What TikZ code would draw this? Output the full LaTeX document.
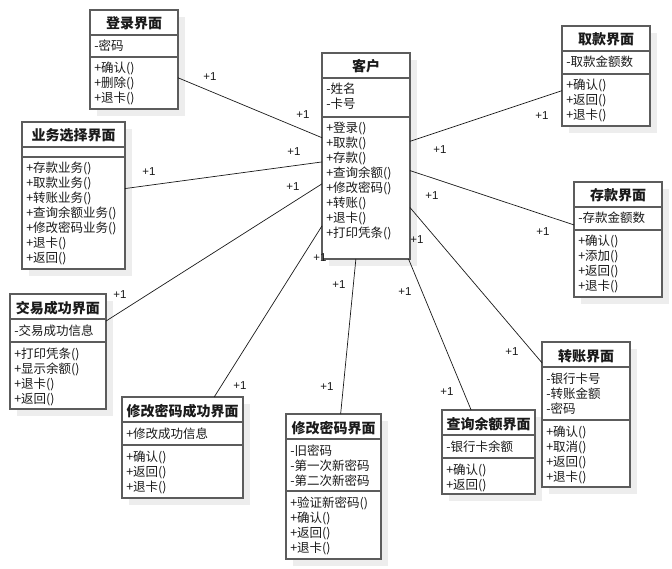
\documentclass[tikz,border=0pt]{standalone}
\usepackage{fontspec}
\setmainfont{Noto Sans CJK SC}
\newfontfamily\latinfont{Liberation Sans}
\usetikzlibrary{calc}
\definecolor{ink}{HTML}{1A1A1A}
\definecolor{frame}{HTML}{5C5C5C}
\definecolor{shadowgray}{HTML}{EDEDED}
\tikzset{
  every picture/.style={line width=0.6pt, text=ink},
  umlbox/.style={rectangle, draw=frame, fill=white, line width=1.5pt, inner sep=0pt, outer sep=0pt},
  divider/.style={draw=frame, line width=1.5pt},
  title/.style={font=\fontsize{14}{15}\selectfont\bfseries, anchor=base, inner sep=0pt},
  member/.style={font=\fontsize{12.5}{15}\selectfont, anchor=base west, inner sep=0pt},
  assoc/.style={draw=ink, line width=0.7pt},
  mult/.style={font=\latinfont\fontsize{11.5}{13}\selectfont, inner sep=0pt},
}
% class box: name, left, top, width, height, methods divider, title, attributes, methods
\newcommand{\umlclass}[9]{%
  \fill[shadowgray] (#2+7,#3+7) rectangle ++(#4,#5);
  \node[umlbox, minimum width=#4pt, minimum height=#5pt, anchor=north west] (#1) at (#2,#3) {};
  \draw[divider] (#2,#3+25) -- ++(#4,0);
  \draw[divider] (#2,#3+#6) -- ++(#4,0);
  \node[title] at (#2+#4/2,#3+19) {#7};
  \foreach \m [count=\idx] in {#8} \node[member] at (#2+4,#3+26+15*\idx) {\m};
  \foreach \m [count=\idx] in {#9} \node[member] at (#2+4,#3+#6+1+15*\idx) {\m};
}

\begin{document}
\begin{tikzpicture}[x=1pt, y=-1pt]
\fill[white] (0,0) rectangle (672,569);
\useasboundingbox (0,0) rectangle (672,569);

% classes
\umlclass{client}{322}{53}{88}{206}{64}{客户}{-姓名,-卡号}{+登录(),+取款(),+存款(),+查询余额(),+修改密码(),+转账(),+退卡(),+打印凭条()}
\umlclass{login}{90}{10}{88}{99}{47}{登录界面}{-密码}{+确认(),+删除(),+退卡()}
\umlclass{menu}{22}{122}{103}{147}{35}{业务选择界面}{}{+存款业务(),+取款业务(),+转账业务(),+查询余额业务(),+修改密码业务(),+退卡(),+返回()}
\umlclass{withdraw}{562}{26}{88}{100}{48}{取款界面}{-取款金额数}{+确认(),+返回(),+退卡()}
\umlclass{deposit}{574}{182}{88}{115}{48}{存款界面}{-存款金额数}{+确认(),+添加(),+返回(),+退卡()}
\umlclass{success}{10}{294}{96}{115}{48}{交易成功界面}{-交易成功信息}{+打印凭条(),+显示余额(),+退卡(),+返回()}
\umlclass{pwdok}{122}{397}{121}{101}{48}{修改密码成功界面}{+修改成功信息}{+确认(),+返回(),+退卡()}
\umlclass{pwd}{286}{414}{95}{145}{77}{修改密码界面}{-旧密码,-第一次新密码,-第二次新密码}{+验证新密码(),+确认(),+返回(),+退卡()}
\umlclass{balance}{442}{410}{93}{84}{48}{查询余额界面}{-银行卡余额}{+确认(),+返回()}
\umlclass{transfer}{542}{342}{88}{145}{78}{转账界面}{-银行卡号,-转账金额,-密码}{+确认(),+取消(),+返回(),+退卡()}

% associations
\foreach \c in {login,menu,success,pwdok,pwd,balance,transfer,deposit,withdraw}
  \draw[assoc] (\c) -- (client);

% multiplicities
\foreach \px/\py [count=\k] in {210/77, 303/115, 149/172, 294/152, 293/187, 120/295,
    320/258, 240/386, 339/285, 327/387, 405/292, 447/392,
    417/240, 512/352, 432/196, 543/232, 440/150, 542/116}
  \node[mult] (mult\k) at (\px,\py) {+1};
\end{tikzpicture}
\end{document}
